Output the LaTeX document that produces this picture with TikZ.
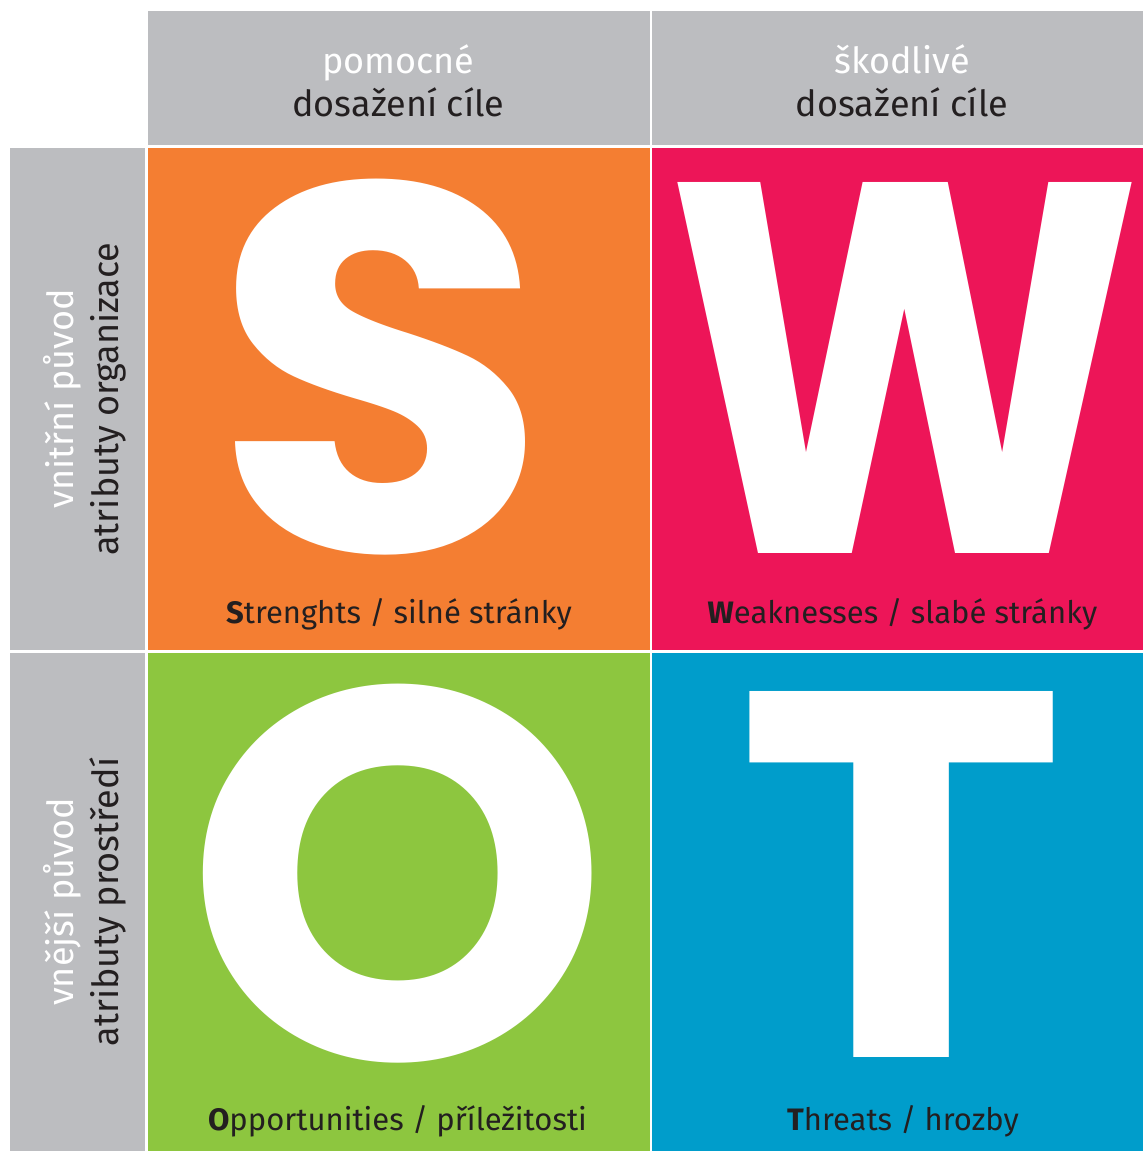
\documentclass[tikz,border=0pt]{standalone}
\usepackage{fontspec}
\usepackage{graphicx}
\setmainfont{Fira Sans}
\newfontfamily\bigfont{Poppins}
\definecolor{swgrey}{HTML}{BCBDC0}
\definecolor{sworange}{HTML}{F47E32}
\definecolor{swmagenta}{HTML}{ED1558}
\definecolor{swgreen}{HTML}{8DC63F}
\definecolor{swblue}{HTML}{009DCB}
\definecolor{swdark}{HTML}{231F20}
\newcommand\trimglyph[1]{\begingroup
  \count255=\XeTeXcharglyph`#1\relax
  \dimen0=\XeTeXglyphbounds1 \count255\relax
  \dimen2=\XeTeXglyphbounds3 \count255\relax
  \hbox{\kern-\dimen0 #1\kern-\dimen2}\endgroup}
\newcommand\bigletter[3]{\resizebox*{#1pt}{#2pt}{\bigfont\bfseries\trimglyph{#3}}}
\begin{document}
\begin{tikzpicture}[x=1pt,y=-1pt,
  hdr/.style={font=\fontsize{36}{40}\selectfont, anchor=base, inner sep=0},
  side/.style={font=\fontsize{36}{40}\selectfont, anchor=base, inner sep=0, rotate=90},
  lbl/.style={font=\fontsize{31}{36}\selectfont, anchor=base, inner sep=0, text=swdark},
  big/.style={anchor=center, inner sep=0, text=white}]
\useasboundingbox (0,0) rectangle (1143,1151);
\fill[white] (0,0) rectangle (1143,1151);
% header and side cells
\fill[swgrey] (147.5,11) rectangle (649.5,145);
\fill[swgrey] (652,11) rectangle (1143,145);
\fill[swgrey] (10,148) rectangle (144.5,649.5);
\fill[swgrey] (10,652.5) rectangle (144.5,1151);
% quadrant cells
\fill[sworange] (147.5,148) rectangle (649.5,649.5);
\fill[swmagenta] (652,148) rectangle (1143,649.5);
\fill[swgreen] (147.5,652.5) rectangle (649.5,1151);
\fill[swblue] (652,652.5) rectangle (1143,1151);
% header texts
\node[hdr, text=white] (h1a) at (398.5,73) {pomocné};
\node[hdr, text=swdark] (h1b) at (398.5,116) {dosažení cíle};
\node[hdr, text=white] (h2a) at (902,73) {škodlivé};
\node[hdr, text=swdark] (h2b) at (902,116) {dosažení cíle};
% side texts
\node[side, text=white] (s1a) at (73,399) {vnitřní původ};
\node[side, text=swdark] (s1b) at (118,399) {atributy organizace};
\node[side, text=white] (s2a) at (73,902) {vnější původ};
\node[side, text=swdark] (s2b) at (118,902) {atributy prostředí};
% big letters
\node[big] (bS) at (380.5,367) {\bigletter{289}{376}{S}};
\node[big] (bW) at (904.5,368) {\bigletter{453}{370}{W}};
\node[big] (bO) at (398,873.5) {\bigletter{388}{379}{O}};
\node[big] (bT) at (902,874.5) {\bigletter{302}{365}{T}};
% labels
\node[lbl] (lS) at (399,623) {\textbf{S}trenghts / silné stránky};
\node[lbl] (lW) at (902.5,623) {\textbf{W}eaknesses / slabé stránky};
\node[lbl] (lO) at (397.5,1130) {\textbf{O}pportunities / příležitosti};
\node[lbl] (lT) at (903,1130) {\textbf{T}hreats / hrozby};
\end{tikzpicture}
\end{document}
